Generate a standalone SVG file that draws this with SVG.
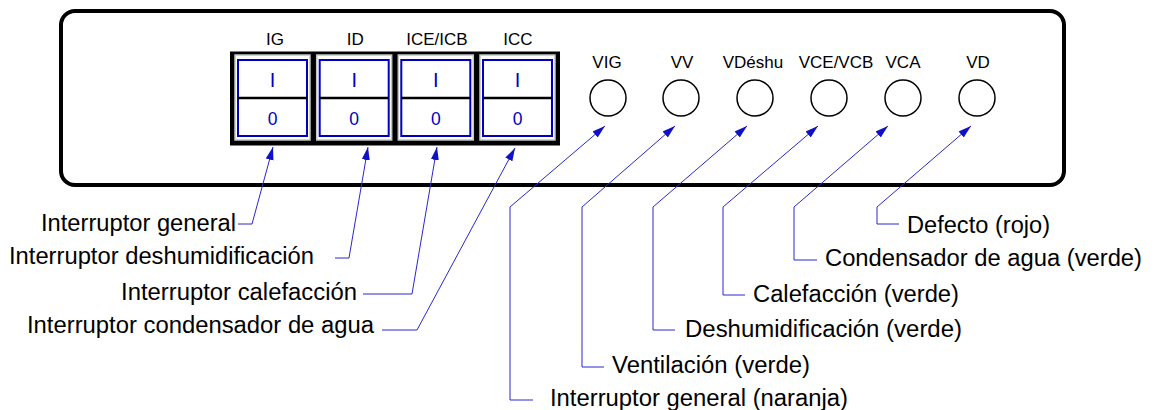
<svg xmlns="http://www.w3.org/2000/svg" width="1158" height="410" viewBox="0 0 1158 410">
<defs>
<marker id="ah" markerUnits="userSpaceOnUse" markerWidth="14" markerHeight="9" refX="13" refY="4" orient="auto">
<path d="M0,0 L13,4 L0,8 Z" fill="#1010c8"/>
</marker>
<style>
.lbl{font-family:"Liberation Sans",Arial,sans-serif;font-size:23px;fill:#000}
.top{font-family:"Liberation Sans",Arial,sans-serif;font-size:17px;fill:#000;text-anchor:middle}
.panel{fill:#fff;stroke:#000;stroke-width:4}
.swbox{fill:#000}
.swo{fill:#fff;stroke:#c4c4c4;stroke-width:1.5}
.swb{fill:none;stroke:#0000c0;stroke-width:2}
.swm{stroke:#000;stroke-width:2.5}
.swt{font-family:"Liberation Sans",Arial,sans-serif;fill:#0000c0;text-anchor:middle}
.lamp{fill:#fff;stroke:#000;stroke-width:1.5}
.lead{fill:none;stroke:#2828d0;stroke-width:1;marker-end:url(#ah)}
</style>
</defs>
<rect id="panel" class="panel" x="61" y="11" width="1003" height="174" rx="14"/>
<rect id="switch-block" class="swbox" x="230" y="51.5" width="330" height="94"/>
<g id="sw-IG" transform="translate(235,0)">
<rect class="swo" x="0" y="55" width="75" height="85"/>
<rect class="swb" x="3" y="60" width="69" height="76"/>
<line class="swm" x1="3" y1="98" x2="72" y2="98"/>
<text class="swt" x="37.5" y="87" font-size="20">I</text>
<text class="swt" x="37.5" y="124.5" font-size="17.5">0</text>
<text class="top" x="40" y="45">IG</text>
</g>
<g id="sw-ID" transform="translate(316.7,0)">
<rect class="swo" x="0" y="55" width="75" height="85"/>
<rect class="swb" x="3" y="60" width="69" height="76"/>
<line class="swm" x1="3" y1="98" x2="72" y2="98"/>
<text class="swt" x="37.5" y="87" font-size="20">I</text>
<text class="swt" x="37.5" y="124.5" font-size="17.5">0</text>
<text class="top" x="38.5" y="45">ID</text>
</g>
<g id="sw-ICE" transform="translate(398.3,0)">
<rect class="swo" x="0" y="55" width="75" height="85"/>
<rect class="swb" x="3" y="60" width="69" height="76"/>
<line class="swm" x1="3" y1="98" x2="72" y2="98"/>
<text class="swt" x="37.5" y="87" font-size="20">I</text>
<text class="swt" x="37.5" y="124.5" font-size="17.5">0</text>
<text class="top" x="38.7" y="45">ICE/ICB</text>
</g>
<g id="sw-ICC" transform="translate(480,0)">
<rect class="swo" x="0" y="55" width="75" height="85"/>
<rect class="swb" x="3" y="60" width="69" height="76"/>
<line class="swm" x1="3" y1="98" x2="72" y2="98"/>
<text class="swt" x="37.5" y="87" font-size="20">I</text>
<text class="swt" x="37.5" y="124.5" font-size="17.5">0</text>
<text class="top" x="38" y="45">ICC</text>
</g>
<g id="lamp-VIG"><circle class="lamp" cx="608" cy="98" r="18"/><text class="top" x="607" y="68">VIG</text></g>
<g id="lamp-VV"><circle class="lamp" cx="681" cy="98" r="18"/><text class="top" x="682" y="68">VV</text></g>
<g id="lamp-VDeshu"><circle class="lamp" cx="755" cy="98" r="18"/><text class="top" x="753" y="68">VDéshu</text></g>
<g id="lamp-VCE"><circle class="lamp" cx="829" cy="98" r="18"/><text class="top" x="836" y="68">VCE/VCB</text></g>
<g id="lamp-VCA"><circle class="lamp" cx="903" cy="98" r="18"/><text class="top" x="903" y="68">VCA</text></g>
<g id="lamp-VD"><circle class="lamp" cx="977" cy="98" r="18"/><text class="top" x="978" y="68">VD</text></g>
<g id="connectors">
<polyline class="lead" points="238,224 252,224 273,147"/>
<polyline class="lead" points="335,258 349,258 368,147"/>
<polyline class="lead" points="363,294 412,294 437,147"/>
<polyline class="lead" points="382,330 417,330 515,148"/>
<polyline class="lead" points="533,400 510,400 510,207 605,126"/>
<polyline class="lead" points="604,367 582,367 582,207 675,126"/>
<polyline class="lead" points="675,330 653,330 653,207 747,126"/>
<polyline class="lead" points="745,295 723,295 723,207 818,126"/>
<polyline class="lead" points="817,260 794,260 794,207 888,126"/>
<polyline class="lead" points="899,224 877,224 877,207 971,126"/>
</g>
<g id="labels">
<text class="lbl" x="236" y="231" text-anchor="end" textLength="195" lengthAdjust="spacingAndGlyphs">Interruptor general</text>
<text class="lbl" x="314" y="264" text-anchor="end" textLength="305" lengthAdjust="spacingAndGlyphs">Interruptor deshumidificación</text>
<text class="lbl" x="357" y="300" text-anchor="end" textLength="236" lengthAdjust="spacingAndGlyphs">Interruptor calefacción</text>
<text class="lbl" x="374" y="333" text-anchor="end" textLength="347" lengthAdjust="spacingAndGlyphs">Interruptor condensador de agua</text>
<text class="lbl" x="907" y="233" textLength="143" lengthAdjust="spacingAndGlyphs">Defecto (rojo)</text>
<text class="lbl" x="825" y="266" textLength="317" lengthAdjust="spacingAndGlyphs">Condensador de agua (verde)</text>
<text class="lbl" x="753" y="302" textLength="206" lengthAdjust="spacingAndGlyphs">Calefacción (verde)</text>
<text class="lbl" x="685" y="337" textLength="277" lengthAdjust="spacingAndGlyphs">Deshumidificación (verde)</text>
<text class="lbl" x="612" y="373" textLength="198" lengthAdjust="spacingAndGlyphs">Ventilación (verde)</text>
<text class="lbl" x="550" y="406" textLength="298" lengthAdjust="spacingAndGlyphs">Interruptor general (naranja)</text>
</g>
</svg>
